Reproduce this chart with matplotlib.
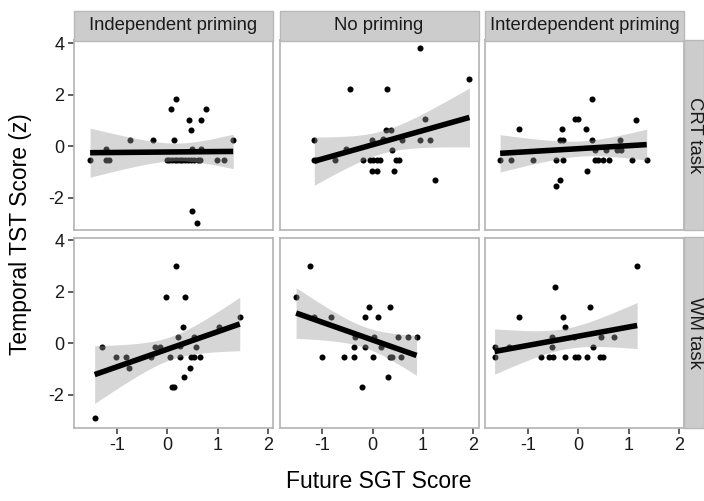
import numpy as np
import matplotlib
matplotlib.use("Agg")
import matplotlib.pyplot as plt
from matplotlib.patches import Rectangle

plt.rcParams["font.family"] = ["Liberation Sans", "DejaVu Sans"]
plt.rcParams["axes.unicode_minus"] = False

# ---- data -------------------------------------------------------------
col_labels = ["Independent priming", "No priming", "Interdependent priming"]
row_labels = ["CRT task", "WM task"]
x_ticks = [-1, 0, 1, 2]
y_ticks = [-2, 0, 2, 4]

crt_indep_x = [-1.53, -1.22, -1.22, -1.16, -0.74, -0.28, 0.07, 0.18, 0.13, 0.44,
               0.48, 0.67, 0.78, 1.31, 0.49, 0.67, 0.49, 0.60,
               -0.01, 0.04, 0.09, 0.15, 0.20, 0.25, 0.30, 0.36, 0.41, 0.47,
               0.54, 0.61, 0.66, 0.99, 1.12]
crt_indep_y = [-0.55, -0.13, -0.55, -0.55, 0.23, 0.23, 1.43, 1.83, 0.23, 1.02,
               0.63, 1.02, 1.43, 0.23, -0.13, -0.13, -2.53, -2.97,
               -0.55, -0.55, -0.55, -0.55, -0.55, -0.55, -0.55, -0.55, -0.55, -0.55,
               -0.55, -0.55, -0.55, -0.55, -0.55]

crt_none_x = [-1.16, -1.16, -1.13, -0.74, -0.53, -0.45, -0.19, -0.05, 0.01, 0.08,
              0.15, -0.01, 0.09, -0.02, 0.20, 0.26, 0.36, 0.28, 0.39, 0.42,
              0.47, 0.53, 0.59, 0.93, 0.94, 1.03, 1.13, 1.23, 1.92]
crt_none_y = [0.23, -0.55, -0.55, -0.55, -0.13, 2.23, -0.55, -0.55, -0.55, -0.55,
              -0.55, -0.95, -0.95, 0.23, 0.28, 0.63, 0.63, 2.23, -0.16, -0.95,
              -0.55, -0.55, 0.23, 0.23, 3.79, 1.04, 0.23, -1.33, 2.60]

crt_inter_x = [-1.55, -1.33, -1.18, -0.89, -0.45, -0.31, -0.44, -0.36, -0.36, -0.31,
               -0.33, -0.06, 0.00, 0.15, 0.27, 0.28, 0.17, 0.34, 0.33, 0.40,
               0.50, 0.62, 0.55, 0.77, 0.85, 0.83, 1.06, 1.14, 1.36]
crt_inter_y = [-0.55, -0.55, 0.65, -0.55, -0.55, -0.55, -1.55, -1.33, 0.23, 0.23,
               0.65, 1.04, 1.04, 0.65, 1.83, 0.23, -0.95, -0.16, -0.55, -0.55,
               -0.55, -0.55, -0.16, -0.16, -0.16, 0.23, -0.55, 1.02, -0.55]

wm_indep_x = [-1.44, -1.30, -1.01, -0.81, -0.76, -0.32, -0.25, -0.15, -0.02, 0.05,
              0.09, 0.13, 0.17, 0.22, 0.25, 0.26, 0.32, 0.35, 0.34, 0.46,
              0.47, 0.53, 0.65, 0.54, 0.57, 1.03, 1.44]
wm_indep_y = [-2.90, -0.13, -0.54, -0.54, -0.94, -0.54, -0.13, -0.13, 1.81, -0.54,
              -1.71, -1.71, 3.00, 0.25, -0.54, -0.10, 0.65, 1.81, -1.31, -0.94,
              -0.54, -0.54, -0.54, 0.26, -0.13, 0.65, 1.03]

wm_none_x = [-1.52, -1.25, -1.16, -1.00, -0.83, -0.57, -0.37, -0.38, -0.36, -0.22,
             -0.15, -0.15, -0.07, 0.01, 0.03, 0.11, 0.17, 0.30, 0.34, 0.34,
             0.38, 0.50, 0.57, 0.70, 0.87]
wm_none_y = [1.81, 3.00, 1.03, -0.54, 1.03, -0.54, -0.54, -0.14, 0.25, -1.71,
             1.03, -0.14, 1.41, -0.54, 0.25, 1.03, -0.14, -1.31, 1.41, -0.54,
             -0.54, 0.25, -0.54, 0.25, 0.25]

wm_inter_x = [-1.66, -1.66, -1.37, -1.18, -0.73, -0.58, -0.51, -0.52, -0.52, -0.47,
              -0.31, -0.26, -0.27, -0.09, -0.06, 0.00, 0.17, 0.24, 0.29, 0.43,
              0.50, 0.45, 0.72, 1.17]
wm_inter_y = [-0.13, -0.54, -0.13, 1.03, -0.54, -0.54, -0.54, 0.25, -0.13, 2.20,
              1.03, 0.65, -0.54, 0.25, -0.54, -0.54, -0.54, 1.41, -0.14, -0.54,
              -0.54, 0.25, 0.25, 3.00]

panels = [
    [(crt_indep_x, crt_indep_y), (crt_none_x, crt_none_y), (crt_inter_x, crt_inter_y)],
    [(wm_indep_x, wm_indep_y), (wm_none_x, wm_none_y), (wm_inter_x, wm_inter_y)],
]


def t975(df):
    # Cornish-Fisher expansion of the Student t 97.5% quantile
    z = 1.959963985
    return (z + (z**3 + z) / (4 * df)
            + (5 * z**5 + 16 * z**3 + 3 * z) / (96 * df**2)
            + (3 * z**7 + 19 * z**5 + 17 * z**3 - 15 * z) / (384 * df**3))


def lm_band(x, y, n_grid=80):
    x = np.asarray(x, float)
    y = np.asarray(y, float)
    n = len(x)
    slope, icpt = np.polyfit(x, y, 1)
    resid = y - (icpt + slope * x)
    s = np.sqrt(np.sum(resid**2) / (n - 2))
    xbar = x.mean()
    sxx = np.sum((x - xbar) ** 2)
    xg = np.linspace(x.min(), x.max(), n_grid)
    yg = icpt + slope * xg
    se = s * np.sqrt(1.0 / n + (xg - xbar) ** 2 / sxx)
    tq = t975(n - 2)
    return xg, yg, yg - tq * se, yg + tq * se


# ---- layout (pixels from the top-left corner) -------------------------
W, H = 704, 501
fig = plt.figure(figsize=(W / 100, H / 100), dpi=100)

col_x = [74, 279.5, 485]
pw = 199
row_y = [(40.5, 230), (237.5, 427.5)]
strip_top = 11
strip_right = (684, 703.5)

xlim = (-1.85, 2.1)
ylim = (-3.26, 4.1)

border_col = "#b3b3b3"
strip_fill = "#cccccc"
strip_edge = "#b8b8b8"
tick_col = "#333333"
label_col = "#1a1a1a"


def fig_rect(x0, y0, x1, y1):
    # pixel box (top-left origin) -> figure fraction [left, bottom, width, height]
    return [x0 / W, 1 - y1 / H, (x1 - x0) / W, (y1 - y0) / H]


for r in range(2):
    for c in range(3):
        y0, y1 = row_y[r]
        ax = fig.add_axes(fig_rect(col_x[c], y0, col_x[c] + pw, y1))
        x, y = panels[r][c]
        ax.scatter(x, y, s=19, color="black", linewidths=0, zorder=2)
        xg, yg, lo, hi = lm_band(x, y)
        ax.fill_between(xg, lo, hi, color="#999999", alpha=0.4, linewidth=0, zorder=3)
        ax.plot(xg, yg, color="black", linewidth=4, solid_capstyle="butt", zorder=4)
        ax.set_xlim(xlim)
        ax.set_ylim(ylim)
        ax.set_xticks(x_ticks)
        ax.set_yticks(y_ticks)
        ax.tick_params(direction="out", length=4.5, width=1.1, color=tick_col,
                       labelsize=13, labelcolor=label_col, pad=2.5)
        if c != 0:
            ax.tick_params(axis="y", left=False, labelleft=False)
        if r != 1:
            ax.tick_params(axis="x", bottom=False, labelbottom=False)
        for sp in ax.spines.values():
            sp.set_color(border_col)
            sp.set_linewidth(1.2)

        # column strip on top
        if r == 0:
            fig.patches.append(Rectangle(
                (col_x[c] / W, 1 - y0 / H), pw / W, (y0 - strip_top) / H,
                transform=fig.transFigure, facecolor=strip_fill,
                edgecolor=strip_edge, linewidth=1.0, zorder=1))
            fig.text((col_x[c] + pw / 2) / W, 1 - ((strip_top + y0) / 2) / H,
                     col_labels[c], ha="center", va="center", fontsize=13.3,
                     color=label_col)
        # row strip on the right
        if c == 2:
            sx0, sx1 = strip_right
            fig.patches.append(Rectangle(
                (sx0 / W, 1 - y1 / H), (sx1 - sx0) / W, (y1 - y0) / H,
                transform=fig.transFigure, facecolor=strip_fill,
                edgecolor=strip_edge, linewidth=1.0, zorder=1))
            fig.text(((sx0 + sx1) / 2 + 1) / W, 1 - ((y0 + y1) / 2) / H,
                     row_labels[r], ha="center", va="center", rotation=-90,
                     fontsize=13.3, color=label_col)

fig.text((col_x[0] + col_x[2] + pw) / 2 / W, 1 - 481 / H, "Future SGT Score",
         ha="center", va="center", fontsize=16.5, color="black")
fig.text(21 / W, 1 - ((row_y[0][0] + row_y[1][1]) / 2) / H,
         "Temporal TST Score (z)", ha="center", va="center", rotation=90,
         fontsize=16.5, color="black")

fig.savefig("out.png", dpi=100)
